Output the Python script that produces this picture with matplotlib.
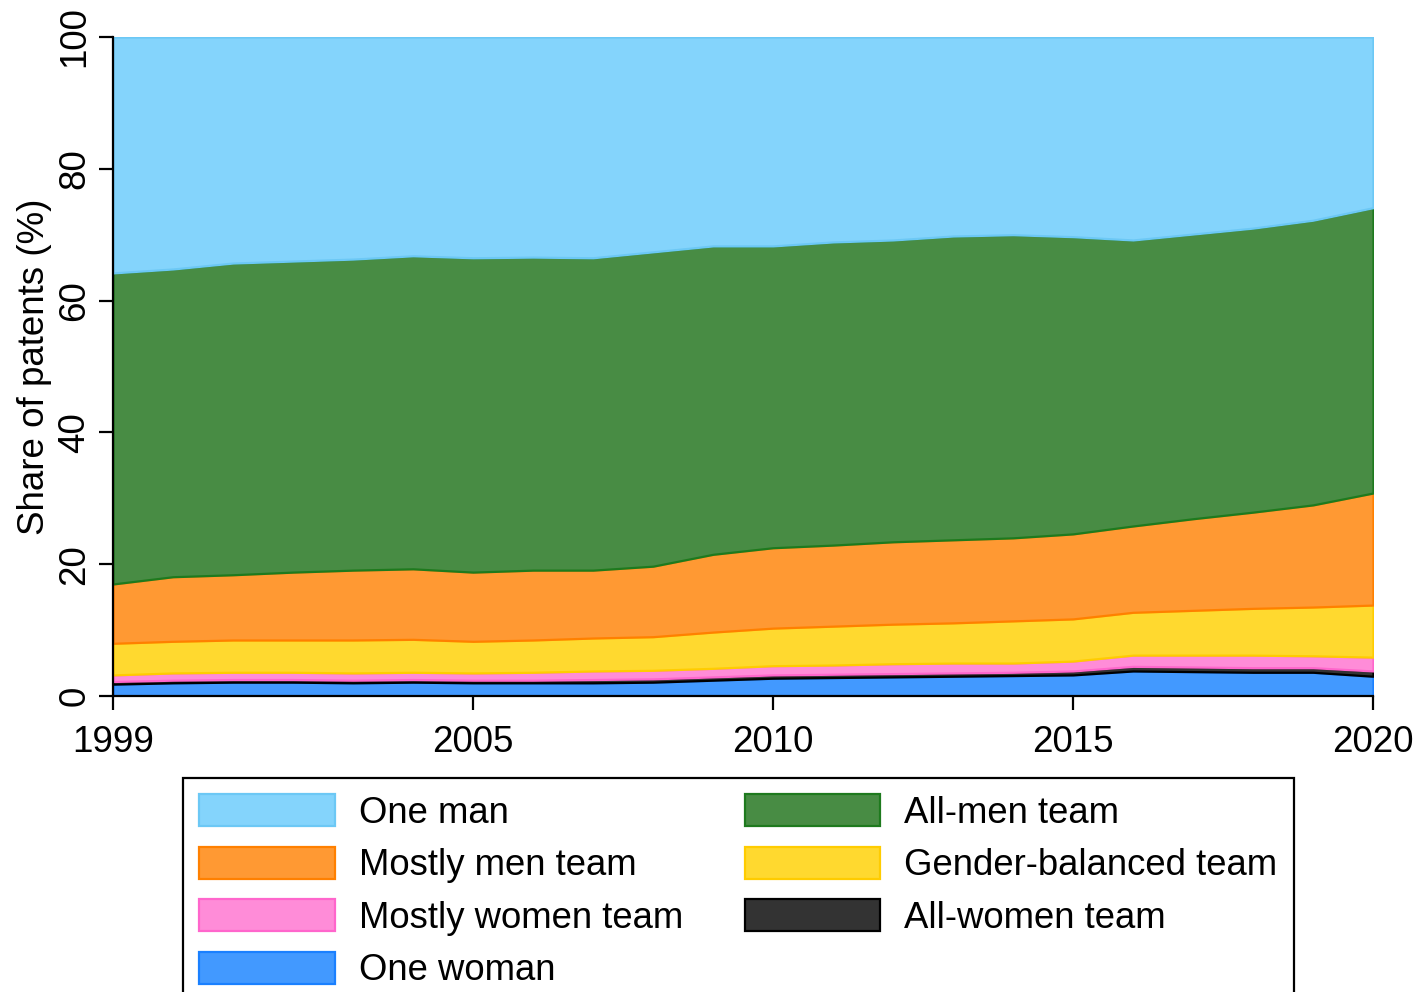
import matplotlib
matplotlib.use("Agg")
import matplotlib.pyplot as plt
import numpy as np

plt.rcParams['font.family'] = ['Liberation Sans', 'DejaVu Sans']

years = list(range(1999, 2021))

one_woman = [1.8, 2.0, 2.1, 2.1, 2.0, 2.1, 2.0, 2.0, 2.0, 2.1, 2.4, 2.7, 2.8, 2.9, 3.0, 3.1, 3.2, 3.8, 3.7, 3.6, 3.6, 3.0]
all_women = [0.4, 0.4, 0.4, 0.4, 0.4, 0.4, 0.4, 0.4, 0.5, 0.5, 0.5, 0.5, 0.5, 0.5, 0.5, 0.5, 0.6, 0.7, 0.7, 0.7, 0.7, 0.8]
mostly_women = [1.0, 1.1, 1.1, 1.1, 1.1, 1.1, 1.1, 1.2, 1.3, 1.3, 1.3, 1.4, 1.4, 1.5, 1.5, 1.4, 1.5, 1.7, 1.8, 1.9, 1.8, 2.1]
gender_balanced = [4.8, 4.8, 4.9, 4.9, 5.0, 5.0, 4.8, 4.9, 5.0, 5.1, 5.5, 5.7, 5.9, 6.0, 6.1, 6.4, 6.4, 6.5, 6.8, 7.1, 7.4, 7.9]
mostly_men = [9.0, 9.8, 9.9, 10.3, 10.6, 10.7, 10.5, 10.6, 10.3, 10.7, 11.8, 12.2, 12.3, 12.5, 12.6, 12.6, 12.9, 13.1, 13.9, 14.6, 15.5, 17.0]
all_men = [47.2, 46.7, 47.3, 47.2, 47.2, 47.5, 47.7, 47.5, 47.4, 47.7, 46.8, 45.8, 46.0, 45.8, 46.1, 46.0, 45.1, 43.4, 43.2, 43.1, 43.2, 43.3]
one_man = [35.8, 35.2, 34.3, 34.0, 33.7, 33.2, 33.5, 33.4, 33.5, 32.6, 31.7, 31.7, 31.1, 30.8, 30.2, 30.0, 30.3, 30.8, 29.9, 29.0, 27.8, 25.9]

labels = ["One woman", "All-women team", "Mostly women team", "Gender-balanced team",
          "Mostly men team", "All-men team", "One man"]
series = [one_woman, all_women, mostly_women, gender_balanced, mostly_men, all_men, one_man]
fills = ["#4299FF", "#333333", "#FF8CD8", "#FFD92F", "#FF9933", "#488C44", "#84D4FC"]
edges = ["#1A80FF", "#000000", "#FF66CC", "#FFCC00", "#FF8000", "#1E7A1E", "#6CC8F5"]

fig = plt.figure(figsize=(14.19, 9.92), dpi=100)
ax = fig.add_axes([113/1419, 1-696/992, (1373-113)/1419, (696-37)/992])

polys = ax.stackplot(years, *series, colors=fills, labels=labels)
for p, ec in zip(polys, edges):
    p.set_edgecolor(ec)
    p.set_linewidth(1.6)

ax.set_xlim(1999, 2020)
ax.set_ylim(0, 100)
ax.set_xticks([1999, 2005, 2010, 2015, 2020])
ax.set_yticks([0, 20, 40, 60, 80, 100])
ax.spines['top'].set_visible(False)
ax.spines['right'].set_visible(False)
for s in ['left', 'bottom']:
    ax.spines[s].set_linewidth(1.6)
    ax.spines[s].set_zorder(5)
ax.tick_params(axis='both', direction='out', length=10, width=1.6, labelsize=26.5)
ax.tick_params(axis='x', pad=11)
ax.tick_params(axis='y', pad=5)
for lbl in ax.get_yticklabels():
    lbl.set_rotation(90)
    lbl.set_va('center')
ax.set_ylabel("Share of patents (%)", fontsize=26.5, labelpad=4)

h, l = ax.get_legend_handles_labels()
order = [6, 4, 2, 0, 5, 3, 1]
leg = fig.legend([h[i] for i in order], [l[i] for i in order], ncol=2,
                 loc='upper left', bbox_to_anchor=(183/1419, 1-778/992),
                 bbox_transform=fig.transFigure, fontsize=26.3, frameon=True,
                 fancybox=False, framealpha=1, edgecolor='black',
                 handlelength=3.7, handleheight=0.96, handletextpad=0.66,
                 columnspacing=1.7, labelspacing=0.44, borderpad=0.45,
                 borderaxespad=0)
leg.get_frame().set_linewidth(1.6)

fig.savefig("out.png", dpi=100)
